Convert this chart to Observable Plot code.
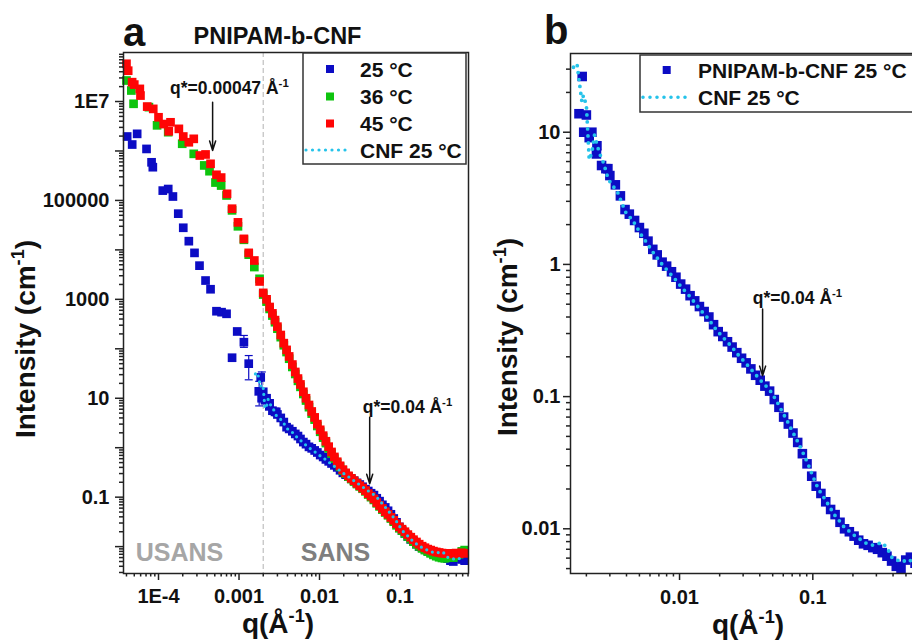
<!DOCTYPE html>
<html><head><meta charset="utf-8">
<script src="https://cdn.jsdelivr.net/npm/d3@7"></script>
<script src="https://cdn.jsdelivr.net/npm/@observablehq/plot@0.6"></script>
<style>
html,body{margin:0;padding:0;background:#fff;overflow:hidden;}
#wrap{position:relative;width:912px;height:641px;overflow:hidden;background:#fff;}
#wrap svg{position:absolute;top:0;}
</style></head><body><div id="wrap"></div>
<script>
// ---------------- data ----------------
// Panel a, USANS range
const qBlueUSANS = [4.08e-5, 4.71e-5, 5.43e-5, 7.1e-5, 8.2e-5, 8.5e-5, 1.13e-4, 1.32e-4, 1.51e-4, 1.76e-4, 2.03e-4, 2.38e-4, 2.8e-4, 3.23e-4, 3.84e-4, 4.43e-4, 5.25e-4, 6.07e-4, 7.0e-4, 8.2e-4, 9.5e-4, 1.15e-3, 1.32e-3];
const iBlueUSANS = [1.96e6, 1.35e6, 2.22e6, 1.1e6, 5.9e5, 4.7e5, 1.58e5, 1.7e5, 1.2e5, 5.4e4, 2.8e4, 1.5e4, 8.7e3, 4.8e3, 2.4e3, 1.6e3, 575, 550, 510, 66, 224, 136, 50];
const qGreenUSANS = [4.0e-5, 4.6e-5, 4.9e-5, 7.6e-5, 9.6e-5, 1.32e-4, 1.97e-4, 2.74e-4, 3.7e-4, 4.3e-4, 5.1e-4, 6.0e-4, 7.0e-4, 8.2e-4, 9.7e-4, 1.15e-3, 1.32e-3, 1.55e-3, 1.8e-3];
const iGreenUSANS = [2.66e7, 1.67e7, 9.0e6, 7.7e6, 3.3e6, 2.4e6, 1.4e6, 8.75e5, 5.1e5, 3.9e5, 2.3e5, 2.0e5, 1.26e5, 6.3e4, 3.0e4, 1.6e4, 8.0e3, 4.5e3, 2.6e3];
const qRedUSANS = [4.0e-5, 4.2e-5, 4.7e-5, 5.0e-5, 5.86e-5, 5.97e-5, 7.24e-5, 8.6e-5, 1.0e-4, 1.16e-4, 1.34e-4, 1.41e-4, 1.79e-4, 2.03e-4, 2.38e-4, 2.74e-4, 3.26e-4, 3.84e-4, 4.43e-4, 5.25e-4, 6.0e-4, 7.1e-4, 8.2e-4, 9.7e-4, 1.15e-3, 1.32e-3, 1.55e-3, 1.8e-3];
const iRedUSANS = [5.8e7, 4.2e7, 2.46e7, 2.2e7, 1.8e7, 1.32e7, 7.9e6, 7.1e6, 4.8e6, 3.5e6, 2.5e6, 3.8e6, 2.8e6, 1.96e6, 1.5e6, 1.76e6, 8.1e5, 8.5e5, 5.5e5, 3.3e5, 2.9e5, 1.36e5, 6.8e4, 3.6e4, 1.67e4, 8.7e3, 6.1e3, 2.3e3];
// error bars (25 °C)
const qErr = [0.00115, 0.00132, 0.00178, 0.00192];
const iErrLo = [107, 23.6, 7, 9];
const iErrHi = [186, 73, 22, 34];

// SANS range (shared q grid)
const qSANS = [0.0020, 0.0022, 0.0024, 0.0026, 0.0028, 0.0030, 0.0033, 0.0036, 0.0039, 0.0042, 0.0046, 0.0050, 0.0054, 0.0058, 0.0063, 0.0068, 0.0074, 0.0080, 0.0087, 0.0094, 0.0102, 0.0111, 0.0120, 0.0130, 0.0141, 0.0153, 0.0166, 0.0180, 0.0195, 0.0211, 0.0229, 0.0248, 0.0269, 0.0292, 0.0316, 0.0343, 0.0372, 0.0403, 0.0437, 0.0474, 0.0514, 0.0557, 0.0604, 0.0655, 0.0710, 0.0770, 0.0835, 0.0905, 0.0981, 0.106, 0.115, 0.125, 0.136, 0.147, 0.160, 0.173, 0.188, 0.204, 0.221, 0.240, 0.260, 0.282, 0.306, 0.332, 0.360, 0.390, 0.423, 0.459, 0.498, 0.540, 0.585, 0.635];
const iBlueSANS = [13.5, 10.0, 7.9, 5.6, 5.3, 4.7, 4.0, 3.3, 2.6, 2.4, 2.15, 1.9, 1.72, 1.5, 1.3, 1.18, 1.04, 0.97, 0.88, 0.80, 0.71, 0.65, 0.58, 0.53, 0.48, 0.44, 0.40, 0.35, 0.31, 0.285, 0.26, 0.237, 0.215, 0.195, 0.18, 0.162, 0.145, 0.133, 0.12, 0.11, 0.095, 0.083, 0.07, 0.062, 0.053, 0.045, 0.037, 0.031, 0.025, 0.021, 0.0185, 0.016, 0.014, 0.0128, 0.0112, 0.010, 0.0095, 0.0088, 0.0082, 0.0077, 0.0075, 0.0072, 0.0070, 0.0066, 0.0062, 0.0057, 0.0052, 0.0050, 0.0058, 0.0061, 0.0055, 0.0052];
const qBlueLow = [0.00176, 0.00186, 0.00191, 0.0021, 0.00238, 0.0029];
const iBlueLow = [13.8, 26.4, 10, 9.1, 6.85, 5.3];
const iGreenSANS = [1250, 900, 640, 470, 345, 255, 172, 118, 86, 63, 43, 31, 22.5, 17, 12.2, 9, 6.6, 4.9, 3.7, 2.75, 2.1, 1.6, 1.24, 0.97, 0.76, 0.6, 0.49, 0.41, 0.345, 0.298, 0.26, 0.232, 0.207, 0.184, 0.165, 0.148, 0.131, 0.113, 0.1, 0.088, 0.075, 0.065, 0.056, 0.049, 0.043, 0.037, 0.032, 0.027, 0.0235, 0.021, 0.0185, 0.016, 0.0142, 0.0126, 0.0112, 0.0101, 0.0092, 0.0085, 0.0079, 0.0073, 0.0068, 0.0064, 0.0061, 0.0059, 0.0058, 0.0060, 0.0062, 0.0060, 0.0066, 0.0070, 0.0080, 0.0085];
const iRedSANS = [1350, 1000, 700, 520, 380, 280, 190, 130, 95, 70, 48, 34, 25, 19, 13.5, 10, 7.3, 5.4, 4.1, 3.0, 2.3, 1.75, 1.35, 1.05, 0.82, 0.65, 0.52, 0.43, 0.36, 0.31, 0.27, 0.24, 0.215, 0.19, 0.17, 0.153, 0.136, 0.118, 0.105, 0.092, 0.078, 0.068, 0.059, 0.051, 0.045, 0.039, 0.034, 0.029, 0.025, 0.0225, 0.02, 0.0175, 0.0155, 0.0138, 0.0124, 0.0112, 0.0102, 0.0095, 0.0089, 0.0085, 0.0081, 0.0078, 0.0076, 0.0074, 0.0073, 0.0072, 0.0073, 0.0071, 0.0074, 0.0072, 0.0075, 0.0073];
// CNF 25 °C
const qCNF = [0.0016, 0.0017, 0.00185, 0.0019, 0.0020, 0.0021, 0.0022, 0.0023, 0.0025, 0.0027, 0.0029, 0.0031, 0.0034, 0.0037, 0.0040, 0.0044, 0.0048, 0.0052, 0.0057, 0.0062, 0.0068, 0.0074, 0.0081, 0.0088, 0.0096, 0.0105, 0.0115, 0.0125, 0.0137, 0.0150, 0.0164, 0.0180, 0.0197, 0.0216, 0.0236, 0.0258, 0.0283, 0.0310, 0.0340, 0.0372, 0.0407, 0.0446, 0.0488, 0.0534, 0.0585, 0.0640, 0.0700, 0.0767, 0.0840, 0.0920, 0.100, 0.110, 0.120, 0.132, 0.145, 0.158, 0.173, 0.190, 0.208, 0.228, 0.250, 0.273, 0.300, 0.330, 0.360, 0.395, 0.430, 0.470, 0.515, 0.565, 0.620];
const iCNF = [31, 33, 17, 19, 16, 6.2, 7.0, 9.5, 7.0, 5.8, 4.5, 4.0, 3.6, 2.9, 2.4, 2.2, 1.9, 1.65, 1.45, 1.27, 1.12, 1.0, 0.9, 0.82, 0.74, 0.66, 0.6, 0.54, 0.48, 0.43, 0.39, 0.34, 0.305, 0.275, 0.25, 0.225, 0.2, 0.182, 0.163, 0.147, 0.132, 0.12, 0.108, 0.093, 0.078, 0.066, 0.055, 0.046, 0.038, 0.031, 0.025, 0.02, 0.0175, 0.015, 0.0128, 0.0115, 0.0102, 0.0095, 0.0088, 0.0083, 0.0078, 0.0075, 0.0076, 0.0079, 0.0072, 0.006, 0.0058, 0.0056, 0.0059, 0.0056, 0.0053];

// annotations
const annoA_q = [0.00076, 0.124];
const annoA_I = [1.83e7, 6.5];
const annoA_text = ["q*=0.00047 Å^-1", "q*=0.04 Å^-1"];
const arrowA_q = [0.00047, 0.042];
const arrowA_from = [9.7e6, 4.14];
const arrowA_to = [1.02e6, 0.186];
const annoB_q = [0.0767];
const annoB_I = [0.552];
const annoB_text = ["q*=0.04 Å^-1"];
const arrowB_q = [0.042];
const arrowB_from = [0.46];
const arrowB_to = [0.144];

// ticks
const xTicksA = [1e-4, 1e-3, 1e-2, 1e-1];
const xTickLabelsA = ["1E-4", "0.001", "0.01", "0.1"];
const yTicksA = [1e-2, 1e-1, 1, 10, 100, 1e3, 1e4, 1e5, 1e6, 1e7];
const yTickLabelsA = ["", "0.1", "", "10", "", "1000", "", "100000", "", "1E7"];
const xTicksB = [1e-2, 1e-1];
const xTickLabelsB = ["0.01", "0.1"];
const yTicksB = [1e-2, 1e-1, 1, 10];
const yTickLabelsB = ["0.01", "0.1", "1", "10"];

const legendA = ["25 °C", "36 °C", "45 °C", "CNF 25 °C"];
const legendB = ["PNIPAM-b-CNF 25 °C", "CNF 25 °C"];
const sepQ = [0.002];

// ---------------- styles ----------------
const FONT = '"Liberation Sans", Arial, Helvetica, sans-serif';
const BLUE = "#0c0cc4", GREEN = "#0ec40e", RED = "#ff0505", CYAN = "#25c3ea";
const SQA = 4.9, SQB = 5.4;

const pts = (qs, is) => qs.map((q, k) => ({q, I: is[k]}));
const minorOf = (majors, dom) => {
  const out = [];
  const lo = majors[0] / 10;
  for (let m = lo; m <= majors[majors.length - 1] * 10; m *= 10)
    for (let k = 2; k <= 9; k++) { const v = +(m * k).toPrecision(3); if (v >= dom[0] && v <= dom[1]) out.push(v); }
  return out;
};
const fmt = (vals, labels) => (v) => { const i = vals.findIndex(t => Math.abs(t - v) / t < 1e-6); return i >= 0 ? labels[i] : ""; };
const capSymbol = {draw(ctx, size) { const w = Math.sqrt(size) / 2; ctx.moveTo(-w, 0); ctx.lineTo(w, 0); }};

function supify(svg) {
  d3.select(svg).selectAll("text").each(function () {
    const t = this.textContent;
    if (!t.includes("^")) return;
    const [a, b] = t.split("^");
    this.textContent = "";
    const s = d3.select(this);
    s.append("tspan").text(a);
    s.append("tspan").attr("font-size", "0.65em").attr("dy", "-0.6em").text(b);
  });
}
function richText(parent, x, y, segs, {size, anchor = "middle", fill = "#111", rotate = 0}) {
  const t = parent.append("text")
    .attr("transform", `translate(${x},${y}) rotate(${rotate})`)
    .attr("text-anchor", anchor).attr("font-size", size).attr("font-weight", "bold")
    .attr("font-family", FONT).attr("fill", fill);
  let shifted = false;
  for (const s of segs) {
    if (typeof s === "string") {
      const sp = t.append("tspan").text(s);
      if (shifted) { sp.attr("dy", size * 0.38); shifted = false; }
    } else {
      t.append("tspan").attr("font-size", size * 0.65).attr("dy", -size * 0.38).text(s.sup);
      shifted = true;
    }
  }
  return t;
}

const baseStyle = {fontFamily: FONT, fontSize: "20px", fontWeight: "bold", background: "transparent", overflow: "visible", color: "#111"};
const axisStyle = {stroke: "#222", strokeWidth: 1.5, fill: "#111", fontWeight: "bold", fontSize: 20, label: null};

// ---------------- panel a ----------------
const domXA = [3.674e-5, 0.709], domYA = [0.00286, 9.8e7];
const errData = qErr.map((q, k) => ({q, lo: iErrLo[k], hi: iErrHi[k]}));
const capData = errData.flatMap(d => [{q: d.q, I: d.lo}, {q: d.q, I: d.hi}]);
const arrowsA = arrowA_q.map((q, k) => ({q, from: arrowA_from[k], to: arrowA_to[k]}));
const arrowsB = arrowB_q.map((q, k) => ({q, from: arrowB_from[k], to: arrowB_to[k]}));
const annA = annoA_q.map((q, k) => ({q, I: annoA_I[k], t: annoA_text[k]}));
const annB = annoB_q.map((q, k) => ({q, I: annoB_I[k], t: annoB_text[k]}));

const plotA = Plot.plot({
  width: 480, height: 641,
  marginLeft: 123, marginRight: 12, marginTop: 52, marginBottom: 68,
  style: baseStyle,
  x: {type: "log", domain: domXA, label: null},
  y: {type: "log", domain: domYA, label: null},
  marks: [
    Plot.ruleX(sepQ, {stroke: "#c4c4c4", strokeWidth: 1.3, strokeDasharray: "5,3"}),
    Plot.ruleX(errData, {x: "q", y1: "lo", y2: "hi", stroke: BLUE, strokeWidth: 1.2}),
    Plot.dot(capData, {x: "q", y: "I", symbol: capSymbol, r: 4.5, stroke: BLUE, strokeWidth: 1.2}),
    Plot.dot(pts(qBlueUSANS, iBlueUSANS), {x: "q", y: "I", symbol: "square", r: SQA, fill: BLUE}),
    Plot.dot(pts(qBlueLow, iBlueLow), {x: "q", y: "I", symbol: "square", r: SQA, fill: BLUE}),
    Plot.dot(pts(qSANS, iBlueSANS), {x: "q", y: "I", symbol: "square", r: SQA, fill: BLUE}),
    Plot.dot(pts(qGreenUSANS, iGreenUSANS), {x: "q", y: "I", symbol: "square", r: SQA, fill: GREEN}),
    Plot.dot(pts(qSANS, iGreenSANS), {x: "q", y: "I", symbol: "square", r: SQA, fill: GREEN}),
    Plot.dot(pts(qRedUSANS, iRedUSANS), {x: "q", y: "I", symbol: "square", r: SQA, fill: RED}),
    Plot.dot(pts(qSANS, iRedSANS), {x: "q", y: "I", symbol: "square", r: SQA, fill: RED}),
    Plot.line(pts(qCNF, iCNF), {x: "q", y: "I", stroke: CYAN, strokeWidth: 3.2, strokeDasharray: "0 6", strokeLinecap: "round"}),
    Plot.arrow(arrowsA, {x1: "q", x2: "q", y1: "from", y2: "to", stroke: "#111", strokeWidth: 1.5, headLength: 10, headAngle: 35}),
    Plot.text(annA, {x: "q", y: "I", text: "t", fontSize: 17.5, fontWeight: "bold", fill: "#111"}),
    Plot.frame({stroke: "#222", strokeWidth: 1.5}),
    Plot.axisX({...axisStyle, ticks: xTicksA, tickFormat: fmt(xTicksA, xTickLabelsA), tickSize: 7, tickPadding: 8}),
    Plot.axisX({...axisStyle, ticks: minorOf(xTicksA, domXA), tickFormat: () => "", tickSize: 3.5}),
    Plot.axisY({...axisStyle, ticks: yTicksA, tickFormat: fmt(yTicksA, yTickLabelsA), tickSize: 8, tickPadding: 6}),
    Plot.axisY({...axisStyle, ticks: minorOf(yTicksA, domYA), tickFormat: () => "", tickSize: 4})
  ]
});
plotA.style.left = "0px";
supify(plotA);
{
  const g = d3.select(plotA).append("g");
  richText(g, 123, 46, ["a"], {size: 40, anchor: "start"});
  richText(g, 277.5, 43.5, ["PNIPAM-b-CNF"], {size: 23.5});
  richText(g, 35, 339, ["Intensity (cm", {sup: "-1"}, ")"], {size: 28, rotate: -90});
  richText(g, 278, 633, ["q(Å", {sup: "-1"}, ")"], {size: 28});
  richText(g, 179.5, 561, ["USANS"], {size: 25, fill: "#a6a6a6"});
  richText(g, 335.5, 561, ["SANS"], {size: 25, fill: "#7f7f7f"});
  // legend
  g.append("rect").attr("x", 303).attr("y", 53).attr("width", 163).attr("height", 111)
    .attr("fill", "white").attr("stroke", "#333").attr("stroke-width", 1.5);
  const rowsY = [69, 96.5, 123.5, 150];
  const cols = [BLUE, GREEN, RED];
  legendA.forEach((lab, k) => {
    if (k < 3) g.append("rect").attr("x", 326).attr("y", rowsY[k] - 4).attr("width", 8).attr("height", 8).attr("fill", cols[k]);
    else g.append("line").attr("x1", 306).attr("x2", 351).attr("y1", rowsY[k]).attr("y2", rowsY[k])
      .attr("stroke", CYAN).attr("stroke-width", 3.2).attr("stroke-dasharray", "0 6.5").attr("stroke-linecap", "round");
    richText(g, 360, rowsY[k] + 7.5, [lab], {size: 21, anchor: "start"});
  });
}

// ---------------- panel b ----------------
const domXB = [1.52e-3, 0.908], domYB = [0.00459, 39.4];
const plotB = Plot.plot({
  width: 480, height: 641,
  marginLeft: 90, marginRight: 20, marginTop: 53, marginBottom: 68,
  style: baseStyle,
  x: {type: "log", domain: domXB, label: null},
  y: {type: "log", domain: domYB, label: null},
  marks: [
    Plot.dot(pts(qBlueLow, iBlueLow), {x: "q", y: "I", symbol: "square", r: SQB, fill: BLUE}),
    Plot.dot(pts(qSANS, iBlueSANS), {x: "q", y: "I", symbol: "square", r: SQB, fill: BLUE}),
    Plot.line(pts(qCNF, iCNF), {x: "q", y: "I", stroke: CYAN, strokeWidth: 3.8, strokeDasharray: "0 7", strokeLinecap: "round"}),
    Plot.arrow(arrowsB, {x1: "q", x2: "q", y1: "from", y2: "to", stroke: "#111", strokeWidth: 1.5, headLength: 10, headAngle: 35}),
    Plot.text(annB, {x: "q", y: "I", text: "t", fontSize: 17.5, fontWeight: "bold", fill: "#111"}),
    Plot.frame({stroke: "#222", strokeWidth: 1.5}),
    Plot.axisX({...axisStyle, ticks: xTicksB, tickFormat: fmt(xTicksB, xTickLabelsB), tickSize: 7, tickPadding: 9}),
    Plot.axisX({...axisStyle, ticks: minorOf(xTicksB, domXB), tickFormat: () => "", tickSize: 3.5}),
    Plot.axisY({...axisStyle, ticks: yTicksB, tickFormat: fmt(yTicksB, yTickLabelsB), tickSize: 7, tickPadding: 3}),
    Plot.axisY({...axisStyle, ticks: minorOf(yTicksB, domYB), tickFormat: () => "", tickSize: 4})
  ]
});
plotB.style.left = "480px";
supify(plotB);
{
  const g = d3.select(plotB).append("g");
  richText(g, 64, 44, ["b"], {size: 40, anchor: "start"});
  richText(g, 37, 337, ["Intensity (cm", {sup: "-1"}, ")"], {size: 28, rotate: -90});
  richText(g, 268, 634, ["q(Å", {sup: "-1"}, ")"], {size: 28});
  g.append("rect").attr("x", 160).attr("y", 55).attr("width", 330).attr("height", 57)
    .attr("fill", "white").attr("stroke", "#333").attr("stroke-width", 1.5);
  const rowsY = [70, 97.3];
  g.append("rect").attr("x", 182.7).attr("y", rowsY[0] - 4).attr("width", 8).attr("height", 8).attr("fill", BLUE);
  g.append("line").attr("x1", 163).attr("x2", 210).attr("y1", rowsY[1]).attr("y2", rowsY[1])
    .attr("stroke", CYAN).attr("stroke-width", 3.6).attr("stroke-dasharray", "0 7").attr("stroke-linecap", "round");
  legendB.forEach((lab, k) => richText(g, 218, rowsY[k] + 7.5, [lab], {size: 21, anchor: "start"}));
}

const wrap = document.getElementById("wrap");
wrap.appendChild(plotB);
wrap.appendChild(plotA);
</script></body></html>
